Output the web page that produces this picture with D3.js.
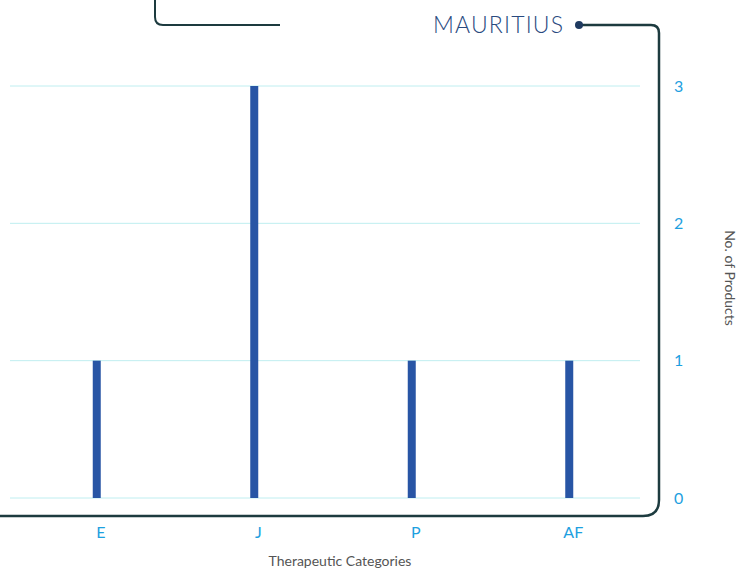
<!DOCTYPE html>
<html><head><meta charset="utf-8">
<script src="https://cdn.jsdelivr.net/npm/d3@7"></script>
<style>body{margin:0;background:#fff}svg{display:block}</style>
</head><body>
<script>
const categories = ["E","J","P","AF"];
const values = [1,3,1,1];
const yTicks = [0,1,2,3];
const title = "MAURITIUS";
const xTitle = "Therapeutic Categories";
const yTitle = "No. of Products";

const W=739,H=569;
const svg=d3.select("body").append("svg").attr("width",W).attr("height",H);
const x=d3.scaleBand().domain(categories).range([18,648]);
const y=d3.scaleLinear().domain([0,3]).range([498,86]);
const font="'Lato','Open Sans',sans-serif";

// gridlines
svg.append("g").selectAll("line").data(yTicks).join("line")
  .attr("x1",10).attr("x2",640).attr("y1",d=>y(d)).attr("y2",d=>y(d))
  .attr("stroke","#bfeef0").attr("stroke-width",1);

// bars
svg.append("g").selectAll("rect").data(values).join("rect")
  .attr("x",(d,i)=>x(categories[i])+x.bandwidth()/2-4)
  .attr("width",8)
  .attr("y",d=>y(d)).attr("height",d=>y(0)-y(d))
  .attr("fill","#2855a5");

// y axis (right)
const ya=svg.append("g").attr("transform","translate(674,0)")
  .call(d3.axisRight(y).tickValues(yTicks).tickFormat(d3.format("d")).tickSize(0).tickPadding(0));
ya.select(".domain").remove();
ya.selectAll("text").attr("fill","#1ea0e0").style("font-family",font).style("font-weight","400").style("font-size","16px");

// x axis
const xa=svg.append("g").attr("transform","translate(4,522)")
  .call(d3.axisBottom(x).tickSize(0).tickPadding(5));
xa.select(".domain").remove();
xa.selectAll("text").attr("fill","#1ea0e0").style("font-family",font).style("font-weight","400").style("font-size","16px");

// frame
const fr="#1d3b3f";
svg.append("path").attr("d","M155,0 V17 Q155,25 163,25 H280")
  .attr("fill","none").attr("stroke",fr).attr("stroke-width",2);
svg.append("path").attr("d","M579,25 H651 Q659,25 659,33 V500 Q659,516 643,516 H0")
  .attr("fill","none").attr("stroke",fr).attr("stroke-width",2.5);
svg.append("circle").attr("cx",579).attr("cy",25).attr("r",4).attr("fill","#1f3a60");

svg.append("text").attr("x",433).attr("y",33).attr("textLength",130).attr("lengthAdjust","spacing")
  .attr("fill","#2a4a7f").style("font-family",font).style("font-weight","300").style("font-size","23px").text(title);

svg.append("text").attr("x",340).attr("y",566).attr("text-anchor","middle")
  .attr("fill","#555").style("font-family",font).style("font-weight","400").style("font-size","14px").text(xTitle);

svg.append("text").attr("transform","translate(725,278) rotate(90)").attr("text-anchor","middle")
  .attr("fill","#555").style("font-family",font).style("font-weight","400").style("font-size","14px").text(yTitle);
</script>
</body></html>
